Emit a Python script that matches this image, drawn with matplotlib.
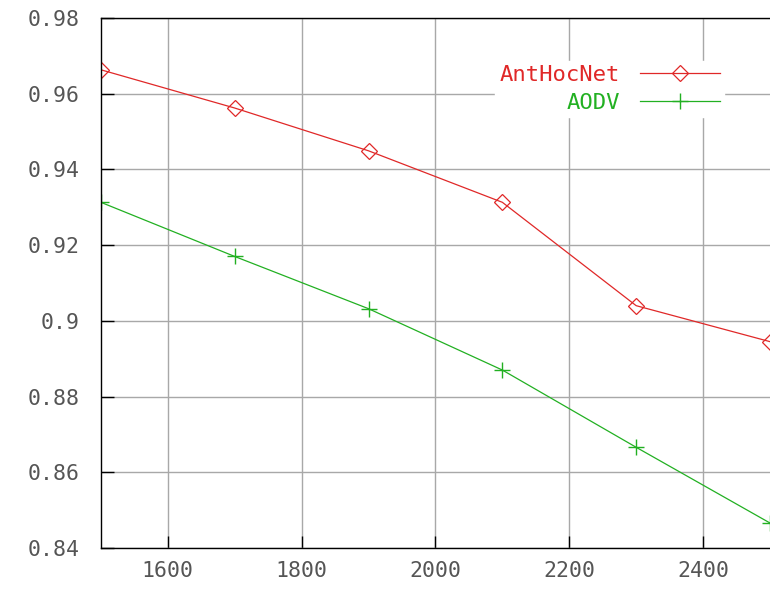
import numpy as np
import matplotlib.pyplot as plt

# datos
x = [1500, 1700, 1900, 2100, 2300, 2500]
anthocnet = [0.9663, 0.9562, 0.9449, 0.9313, 0.9040, 0.8945]
aodv = [0.9313, 0.9170, 0.9032, 0.8870, 0.8666, 0.8466]

xticks = [1600, 1800, 2000, 2200, 2400]
yticks = [0.84, 0.86, 0.88, 0.90, 0.92, 0.94, 0.96, 0.98]
ylabels = ["0.84", "0.86", "0.88", "0.9", "0.92", "0.94", "0.96", "0.98"]

plt.rcParams['font.family'] = ['DejaVu Sans Mono']

fig = plt.figure(figsize=(7.7, 5.89), dpi=100)
ax = fig.add_axes([0.131, 0.0696, 0.869, 0.9])

ax.plot(x, anthocnet, color='#e02828', lw=0.9, marker='D', markersize=8.5,
        markerfacecolor='none', markeredgewidth=0.9, label='AntHocNet')
ax.plot(x, aodv, color='#22b022', lw=0.9, marker='+', markersize=12,
        markeredgewidth=1.0, label='AODV')

ax.set_xlim(1500, 2500)
ax.set_ylim(0.84, 0.98)
ax.set_xticks(xticks)
ax.set_yticks(yticks)
ax.set_yticklabels(ylabels)
ax.grid(True, color='#a8a8a8', lw=1.0)
ax.set_axisbelow(True)

ax.tick_params(direction='in', length=9, width=1, color='black',
               labelsize=15.5, labelcolor='#555555')
ax.tick_params(axis='y', pad=15)
ax.tick_params(axis='x', pad=9)
ax.spines['right'].set_visible(False)
for s in ['left', 'bottom', 'top']:
    ax.spines[s].set_linewidth(1.0)

leg = ax.legend(loc='upper right', bbox_to_anchor=(0.948, 0.94), markerfirst=False,
                frameon=True, framealpha=1, edgecolor='white', fancybox=False,
                labelcolor='linecolor', fontsize=16, handlelength=3.6,
                borderpad=0.2, labelspacing=0.35, handletextpad=0.9)

fig.savefig('out.png', dpi=100)
